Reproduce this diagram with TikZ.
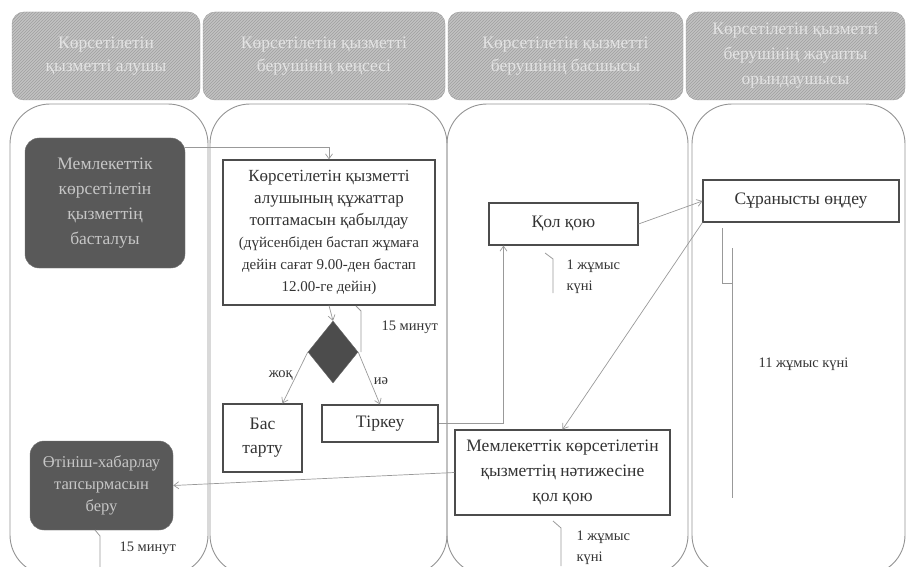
\documentclass[tikz,border=0pt]{standalone}
\usepackage{fontspec}
\setmainfont{Liberation Serif}
\usetikzlibrary{patterns,shapes.geometric,arrows.meta}
\begin{document}
\begin{tikzpicture}[x=1pt,y=-1pt,
        lanehead/.style = {shape = rectangle,
                           rounded corners = 12pt,
                           draw = gray!75,
                           preaction = {fill = gray!48},
                           pattern = north east lines,
                           pattern color = gray!75,
                           text = gray!22,
                           align = center,
                           font = \fontsize{17.5}{23}\selectfont},
        lanebox/.style  = {shape = rectangle,
                           rounded corners = 40pt,
                           draw = gray!85,
                           line width = 0.9pt,
                           minimum height = 471pt},
        stepbox/.style  = {shape = rectangle,
                           draw = black!70,
                           line width = 1.1pt,
                           align = center,
                           text = black!80,
                           inner sep = 2pt,
                           font = \fontsize{17.5}{24}\selectfont},
        darkbox/.style  = {shape = rectangle,
                           rounded corners = 14pt,
                           fill = black!65,
                           draw = black!55,
                           align = center,
                           text = gray!45,
                           font = \fontsize{17}{23}\selectfont},
        flow/.style     = {draw = gray!80,
                           line width = 0.7pt,
                           -{Straight Barb[length=5pt,width=7pt]}},
        timemark/.style = {draw = gray!80, line width = 0.8pt},
        note/.style     = {font = \fontsize{14.5}{21}\selectfont,
                           text = black!80,
                           align = left}]
    \useasboundingbox (0,0) rectangle (908,567);
    % lane headers
    \node[lanehead, minimum width = 188pt, minimum height = 88pt] (h1) at (106,56)
        {Көрсетілетін\\ қызметті алушы};
    \node[lanehead, minimum width = 242pt, minimum height = 88pt] (h2) at (324,56)
        {Көрсетілетін қызметті\\ берушінің кеңсесі};
    \node[lanehead, minimum width = 235pt, minimum height = 88pt] (h3) at (565.5,56)
        {Көрсетілетін қызметті\\ берушінің басшысы};
    \node[lanehead, minimum width = 219pt, minimum height = 88pt,
          font = \fontsize{17.5}{25}\selectfont] (h4) at (795.5,56)
        {Көрсетілетін қызметті\\ берушінің жауапты\\ орындаушысы};
    % lanes
    \node[lanebox, minimum width = 198pt] (l1) at (109,339.5) {};
    \node[lanebox, minimum width = 237pt] (l2) at (328.5,339.5) {};
    \node[lanebox, minimum width = 241pt] (l3) at (567.5,339.5) {};
    \node[lanebox, minimum width = 213pt] (l4) at (798.5,339.5) {};
    % steps
    \node[darkbox, minimum width = 160pt, minimum height = 130pt,
          font = \fontsize{17.5}{25}\selectfont] (start) at (105,203)
        {Мемлекеттік\\ көрсетілетін\\ қызметтің\\ басталуы};
    \node[stepbox, minimum width = 212pt, minimum height = 145pt,
          font = \fontsize{17}{22}\selectfont] (recv) at (329,232.5)
        {Көрсетілетін қызметті\\ алушының құжаттар\\ топтамасын қабылдау\\
         {\fontsize{15}{21}\selectfont (дүйсенбіден бастап жұмаға}\\
         {\fontsize{15}{21}\selectfont дейін сағат 9.00-ден бастап}\\
         {\fontsize{15}{21}\selectfont 12.00-ге дейін)}};
    \node[shape = diamond, fill = black!70, draw = black!60,
          minimum width = 50pt, minimum height = 62pt, inner sep = 0pt] (dec) at (333,352) {};
    \node[stepbox, minimum width = 79pt, minimum height = 68pt] (reject) at (262.5,438)
        {Бас\\ тарту};
    \node[stepbox, minimum width = 116pt, minimum height = 37pt] (reg) at (380,423.5)
        {Тіркеу};
    \node[stepbox, minimum width = 149pt, minimum height = 42pt] (sign) at (563.5,224)
        {Қол қою};
    \node[stepbox, minimum width = 196pt, minimum height = 42pt] (proc) at (801,201)
        {Сұранысты өңдеу};
    \node[stepbox, minimum width = 215pt, minimum height = 85pt,
          font = \fontsize{17.5}{25}\selectfont] (res) at (562.5,472.5)
        {Мемлекеттік көрсетілетін\\ қызметтің нәтижесіне\\ қол қою};
    \node[darkbox, minimum width = 143pt, minimum height = 89pt,
          font = \fontsize{16.5}{22}\selectfont] (fin) at (101.5,485.5)
        {Өтініш-хабарлау\\ тапсырмасын\\ беру};
    % connectors
    \draw[flow] ([yshift=56pt]start.east) -| (recv.north);
    \draw[flow] (recv.south) -- (dec.north);
    \draw[flow] (dec.west) -- node[note, left, pos=0.45] {жоқ} ([xshift=20pt]reject.north);
    \draw[flow] (dec.east) -- node[note, right, pos=0.55] {иә} (reg.north);
    \draw[flow] (reg.east) -| ([xshift=-60pt]sign.south);
    \draw[flow] (sign.east) -- (proc.west);
    \draw[flow] (proc.south west) -- (res.north);
    \draw[flow] (res.west) -- (fin.east);
    % time marks
    \draw[timemark] (356,306) -- (361,311) -- (361,352);
    \node[note, anchor = west] (t1) at (378,327) {15 минут};
    \draw[timemark] (545,253) -- (553,259) -- (553,293);
    \node[note, anchor = west] (t2) at (563,277) {1 жұмыс\\ күні};
    \draw[timemark] (722,228) -- (722,283) -- (732,283);
    \draw[timemark] (732,248) -- (732,498);
    \node[note, anchor = west] (t3) at (755,364) {11 жұмыс күні};
    \draw[timemark] (553,521) -- (561,528) -- (561,566);
    \node[note, anchor = west] (t4) at (573,548) {1 жұмыс\\ күні};
    \draw[timemark] (95,530) -- (100,536) -- (100,567);
    \node[note, anchor = west] (t5) at (116,548) {15 минут};
\end{tikzpicture}
\end{document}
